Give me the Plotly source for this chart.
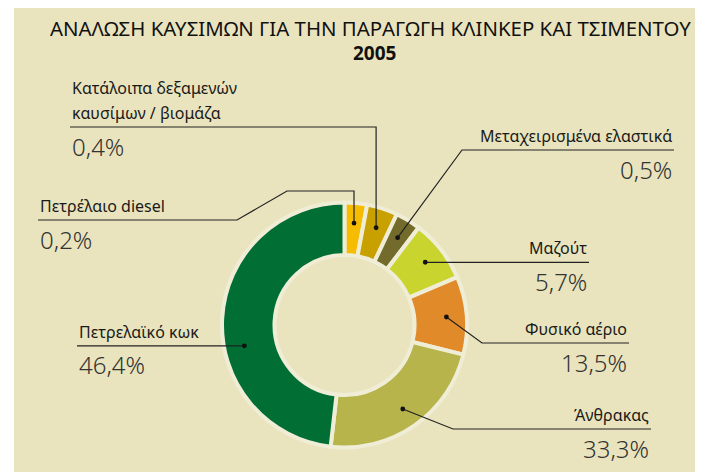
import numpy as np
import plotly.graph_objects as go

# fuels, clockwise from 12 o'clock
categories = [
    "Πετρέλαιο diesel",
    "Κατάλοιπα δεξαμενών\nκαυσίμων / βιομάζα",
    "Μεταχειρισμένα ελαστικά",
    "Μαζούτ",
    "Φυσικό αέριο",
    "Άνθρακας",
    "Πετρελαϊκό κωκ",
]
shares = [0.2, 0.4, 0.5, 5.7, 13.5, 33.3, 46.4]
# slice sweep as drawn in the original, in degrees (small fuels are exaggerated there)
drawn_deg = [10.7, 14.6, 12.0, 29.7, 37.0, 82.5, 173.5]
colors = ["#F6BD00", "#C8A000", "#736B2B", "#C9D42F", "#E18A2A", "#B7B44B", "#016E33"]

W, H = 703, 472
OFF = 8  # page body margin, screen px = figure px + OFF
CX, CY, R, R_IN = 344.5, 325.0, 122.5, 70.0
BG = "#E9E4BD"

# leader layout in screen pixels: points after the dot (None = reuse the dot coordinate)
leaders = [
    dict(path=[(None, 191), (287, 191), (237, 220), (38, 220)]),
    dict(path=[(None, 127), (70, 127)]),
    dict(path=[(462, 150), (674, 150)]),
    dict(path=[(589, None)]),
    dict(path=[(482, 343), (629, 343)]),
    dict(path=[(453, 429), (651, 429)]),
    dict(path=[(77, None)], nudge=-15),
]

fig = go.Figure()

fig.add_trace(go.Pie(
    values=drawn_deg,
    labels=[c.replace("\n", " ") for c in categories],
    customdata=[f"{s:.1f}".replace(".", ",") + "%" for s in shares],
    hovertemplate="%{label}<br>%{customdata}<extra></extra>",
    marker=dict(colors=colors, line=dict(color="#F0EDD6", width=4)),
    hole=R_IN / R,
    sort=False,
    direction="clockwise",
    rotation=0,
    textinfo="none",
    showlegend=False,
    domain=dict(x=[(CX - OFF - R) / W, (CX - OFF + R) / W],
                y=[1 - (CY - OFF + R) / H, 1 - (CY - OFF - R) / H]),
))

# invisible pixel axes for leaders and labels
fig.add_trace(go.Scatter(x=[OFF, W], y=[OFF, H], mode="markers", marker=dict(opacity=0),
                         hoverinfo="skip", showlegend=False))

shapes = [dict(type="rect", xref="x", yref="y", x0=14, y0=6, x1=W + OFF, y1=H + OFF,
               fillcolor=BG, line=dict(width=0), layer="below")]
annotations = []

ends = np.cumsum(drawn_deg)
starts = ends - np.array(drawn_deg)
r_dot = (R + R_IN) / 2 + 6
for i, name in enumerate(categories):
    ang = np.radians((starts[i] + ends[i]) / 2 + leaders[i].get("nudge", 0))
    dx, dy = CX + r_dot * np.sin(ang), CY - r_dot * np.cos(ang)
    pts = [(dx, dy)] + [(dx if px is None else px, dy if py is None else py)
                        for px, py in leaders[i]["path"]]
    path = "M " + " L ".join(f"{px:.1f},{py:.1f}" for px, py in pts)
    shapes.append(dict(type="path", xref="x", yref="y", path=path,
                       line=dict(color="#222222", width=1.2), layer="above"))
    shapes.append(dict(type="circle", xref="x", yref="y", x0=dx - 2.4, x1=dx + 2.4,
                       y0=dy - 2.4, y1=dy + 2.4, fillcolor="#111111",
                       line=dict(width=0), layer="above"))

    ex, ey = pts[-1]
    side = "left" if pts[-2][0] > ex else "right"
    lines = name.split("\n")
    for k, ln in enumerate(lines):
        annotations.append(dict(
            x=ex, y=ey - 14 - 25 * (len(lines) - 1 - k), xref="x", yref="y",
            text=ln, showarrow=False, xanchor=side, yanchor="middle",
            font=dict(family="Noto Sans", size=16, color="#1A1A1A"),
        ))
    annotations.append(dict(
        x=ex, y=ey + 19, xref="x", yref="y",
        text=f"{shares[i]:.1f}".replace(".", ",") + "%", showarrow=False,
        xanchor=side, yanchor="middle",
        font=dict(family="Noto Sans", size=24, color="#333333", weight=300),
    ))

annotations.append(dict(
    x=370, y=28, xref="x", yref="y", showarrow=False, xanchor="center", yanchor="middle",
    text="ΑΝΑΛΩΣΗ ΚΑΥΣΙΜΩΝ ΓΙΑ ΤΗΝ ΠΑΡΑΓΩΓΗ ΚΛΙΝΚΕΡ ΚΑΙ ΤΣΙΜΕΝΤΟΥ",
    font=dict(family="Noto Sans", size=20.4, color="#111111"),
))
annotations.append(dict(
    x=374, y=53, xref="x", yref="y", showarrow=False, xanchor="center", yanchor="middle",
    text="<b>2005</b>", font=dict(family="Noto Sans", size=19, color="#111111"),
))

fig.update_layout(
    width=W, height=H,
    margin=dict(l=0, r=0, t=0, b=0),
    paper_bgcolor="white",
    plot_bgcolor="rgba(0,0,0,0)",
    xaxis=dict(range=[OFF, W + OFF], domain=[0, 1], visible=False, fixedrange=True),
    yaxis=dict(range=[H + OFF, OFF], domain=[0, 1], visible=False, fixedrange=True),
    shapes=shapes,
    annotations=annotations,
)

fig.write_html("out.html")
